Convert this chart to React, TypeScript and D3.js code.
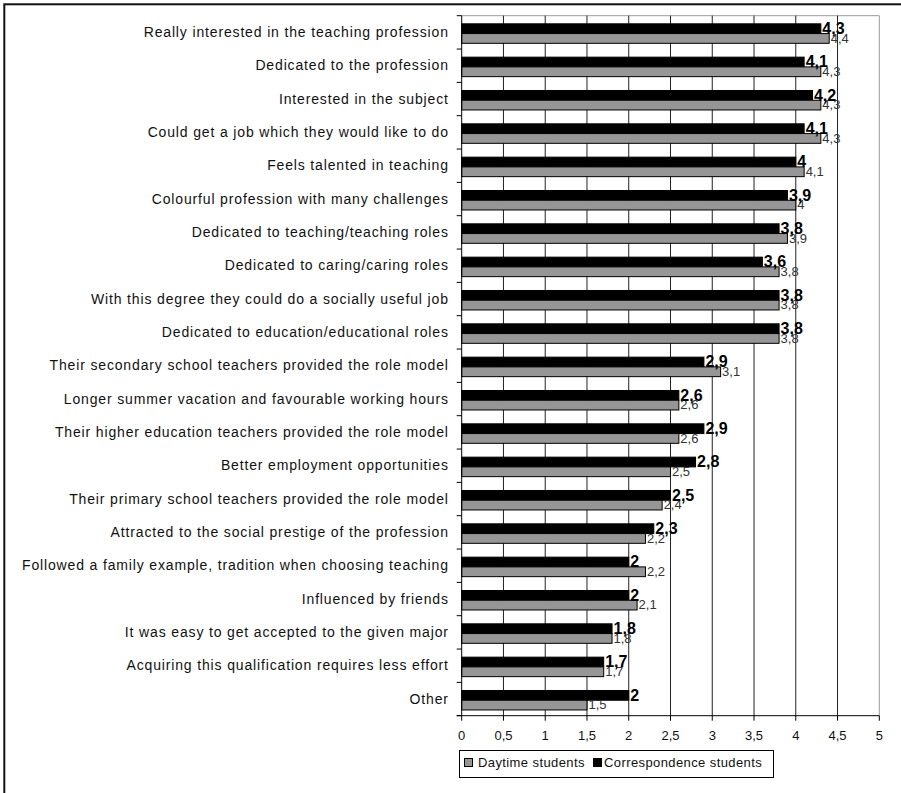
import React from "react";
import * as d3 from "d3";

// Reasons for choosing the teaching career, mean scores (1–5)
const categories: string[] = [
  "Really interested in the teaching profession",
  "Dedicated to the profession",
  "Interested in the subject",
  "Could get a job which they would like to do",
  "Feels talented in teaching",
  "Colourful profession with many challenges",
  "Dedicated to teaching/teaching roles",
  "Dedicated to caring/caring roles",
  "With this degree they could do a socially useful job",
  "Dedicated to education/educational roles",
  "Their secondary school teachers provided the role model",
  "Longer summer vacation and favourable working hours",
  "Their higher education teachers provided the role model",
  "Better employment opportunities",
  "Their primary school teachers provided the role model",
  "Attracted to the social prestige of the profession",
  "Followed a family example, tradition when choosing teaching",
  "Influenced by friends",
  "It was easy to get accepted to the given major",
  "Acquiring this qualification requires less effort",
  "Other",
];

const daytime: number[] = [
  4.4, 4.3, 4.3, 4.3, 4.1, 4, 3.9, 3.8, 3.8, 3.8, 3.1, 2.6, 2.6, 2.5, 2.4, 2.2,
  2.2, 2.1, 1.8, 1.7, 1.5,
];

const correspondence: number[] = [
  4.3, 4.1, 4.2, 4.1, 4, 3.9, 3.8, 3.6, 3.8, 3.8, 2.9, 2.6, 2.9, 2.8, 2.5, 2.3,
  2, 2, 1.8, 1.7, 2,
];

const xTicks: number[] = [0, 0.5, 1, 1.5, 2, 2.5, 3, 3.5, 4, 4.5, 5];
const seriesNames: string[] = ["Daytime students", "Correspondence students"];

const W = 901;
const H = 793;
const FONT = "'Liberation Sans', Arial, Helvetica, sans-serif";

const plot = { left: 461.7, right: 879.3, top: 15.7, bottom: 715.7 };

const commaFmt = (v: number) => String(v).replace(".", ",");

export default function App() {
  const x = d3.scaleLinear().domain([0, 5]).range([plot.left, plot.right]);
  const y = d3
    .scaleBand<string>()
    .domain(categories)
    .range([plot.top, plot.bottom])
    .padding(0);
  // Correspondence bar sits above the daytime bar inside each category
  const inner = d3
    .scaleBand<string>()
    .domain(["corr", "day"])
    .range([0, y.bandwidth()])
    .paddingInner(0)
    .paddingOuter(0.71);
  const shift = 1.2;
  const barH = inner.bandwidth();

  const rows = categories.map((c, i) => ({
    cat: c,
    day: daytime[i],
    corr: correspondence[i],
    y0: (y(c) as number) + shift,
  }));

  const boundaries = categories.map((c) => y(c) as number).concat([plot.bottom]);

  return (
    <svg
      width={W}
      height={H}
      style={{ position: "absolute", left: 0, top: 0, background: "#fff" }}
      fontFamily={FONT}
    >
      <rect x={0} y={0} width={W} height={H} fill="#fff" />
      {/* outer frame */}
      <rect x={4.3} y={4.3} width={W + 10} height={H + 10} fill="none" stroke="#111" strokeWidth={2} />

      {/* plot border (top & right) */}
      <line x1={plot.left} x2={plot.right} y1={plot.top} y2={plot.top} stroke="#9a9a9a" strokeWidth={1} />
      <line x1={plot.right} x2={plot.right} y1={plot.top} y2={plot.bottom} stroke="#9a9a9a" strokeWidth={1} />

      {/* vertical gridlines */}
      {xTicks.slice(1, -1).map((t) => (
        <line key={"g" + t} x1={x(t)} x2={x(t)} y1={plot.top} y2={plot.bottom} stroke="#222" strokeWidth={1} />
      ))}

      {/* bars */}
      {rows.map((r) => (
        <g key={r.cat}>
          <rect
            x={x(0)}
            y={r.y0 + (inner("corr") as number)}
            width={x(r.corr) - x(0)}
            height={barH}
            fill="#000"
            stroke="#000"
            strokeWidth={1}
          />
          <rect
            x={x(0)}
            y={r.y0 + (inner("day") as number)}
            width={x(r.day) - x(0)}
            height={barH}
            fill="#969696"
            stroke="#000"
            strokeWidth={1}
          />
        </g>
      ))}

      {/* value labels */}
      {rows.map((r) => (
        <g key={"l" + r.cat}>
          <text
            x={x(r.day) + 1.5}
            y={r.y0 + (inner("day") as number) + barH - 0.5}
            fontSize={13}
            fill="#333"
          >
            {commaFmt(r.day)}
          </text>
          <text
            x={x(r.corr) + 1.5}
            y={r.y0 + (inner("corr") as number) + barH + 0.5}
            fontSize={16}
            fontWeight="bold"
            fill="#000"
          >
            {commaFmt(r.corr)}
          </text>
        </g>
      ))}

      {/* category axis */}
      <line x1={plot.left} x2={plot.left} y1={plot.top} y2={plot.bottom} stroke="#000" strokeWidth={1} />
      {boundaries.map((b, i) => (
        <line key={"yt" + i} x1={plot.left - 5} x2={plot.left} y1={b} y2={b} stroke="#000" strokeWidth={1} />
      ))}
      {categories.map((c) => (
        <text
          key={"c" + c}
          x={448.8}
          y={(y(c) as number) + y.bandwidth() / 2 + 1}
          textAnchor="end"
          dominantBaseline="middle"
          fontSize={14}
          letterSpacing={0.85}
          fill="#111"
        >
          {c}
        </text>
      ))}

      {/* value axis */}
      <line x1={plot.left - 5} x2={plot.right} y1={plot.bottom} y2={plot.bottom} stroke="#000" strokeWidth={1} />
      {xTicks.map((t) => (
        <g key={"xt" + t}>
          <line x1={x(t)} x2={x(t)} y1={plot.bottom} y2={plot.bottom + 5} stroke="#000" strokeWidth={1} />
          <text x={x(t)} y={plot.bottom + 24.5} textAnchor="middle" fontSize={13} fill="#111">
            {commaFmt(t)}
          </text>
        </g>
      ))}

      {/* legend */}
      <g>
        <rect x={459.5} y={750.5} width={314} height={27} fill="#fff" stroke="#000" strokeWidth={1} />
        <rect x={464.5} y={758.5} width={8} height={8} fill="#969696" stroke="#000" strokeWidth={1} />
        <text x={478} y={767} fontSize={13} letterSpacing={0.4} fill="#111">
          {seriesNames[0]}
        </text>
        <rect x={593.5} y={758.5} width={8} height={8} fill="#000" stroke="#000" strokeWidth={1} />
        <text x={604} y={767} fontSize={13} letterSpacing={0.4} fill="#111">
          {seriesNames[1]}
        </text>
      </g>
    </svg>
  );
}
